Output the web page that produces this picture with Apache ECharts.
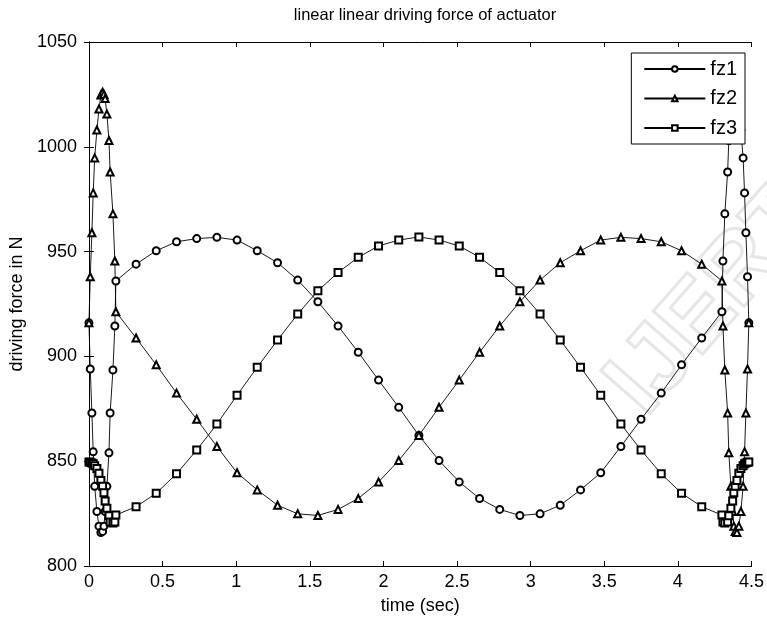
<!DOCTYPE html>
<html>
<head>
<meta charset="utf-8">
<script src="https://cdn.jsdelivr.net/npm/echarts@6/dist/echarts.min.js"></script>
<style>html,body{margin:0;padding:0;background:#fff}#c{width:767px;height:626px}</style>
</head>
<body>
<div id="c"></div>
<script>
var time = [0, 0.009, 0.02, 0.029, 0.039, 0.054, 0.068, 0.081, 0.093, 0.102, 0.110, 0.122, 0.136, 0.144, 0.163, 0.176, 0.183,
 0.320, 0.457, 0.595, 0.732, 0.869, 1.006, 1.143, 1.281, 1.418, 1.555, 1.692, 1.829, 1.967, 2.104, 2.241, 2.378, 2.515, 2.653, 2.790, 2.927, 3.064, 3.201, 3.339, 3.476, 3.613, 3.750, 3.887, 4.025, 4.162,
 4.299, 4.306, 4.319, 4.338, 4.346, 4.360, 4.372, 4.380, 4.389, 4.401, 4.414, 4.428, 4.443, 4.453, 4.462, 4.473, 4.482];

var fz1 = [916, 894, 873, 854.5, 838, 826, 819, 816, 816.5, 819, 826, 838, 854, 873, 893.5, 914.5, 936,
 944, 950.4, 954.7, 956.2, 956.8, 955.5, 950.4, 944.7, 936.4, 926.1, 914.5, 902, 888.7, 875.7, 862.3, 850.3, 840.1, 832.2, 827, 824.1, 824.9, 829, 836.3, 844.5, 857, 870, 882.5, 896, 908.8,
 921.3, 945.5, 968, 988, 1003, 1015.6, 1023, 1025, 1026, 1024.7, 1018, 1008, 994.7, 978, 959, 938, 916];

var fz2 = [916, 938, 959, 978, 994.7, 1008, 1018, 1024.7, 1026, 1025, 1023, 1015.6, 1003, 988, 968, 945.5, 921.3,
 908.8, 896, 882.5, 870, 857, 844.5, 836.3, 829, 824.9, 824.1, 827, 832.2, 840.1, 850.3, 862.3, 875.7, 888.7, 902, 914.5, 926.1, 936.4, 944.7, 950.4, 955.5, 956.8, 956.2, 954.7, 950.4, 944,
 936, 914.5, 893.5, 873, 854, 838, 826, 819, 816.5, 816, 819, 826, 838, 854.5, 873, 894, 916];

var fz3 = [849.6, 849.5, 849.2, 848.8, 847.8, 846.5, 844.3, 840.8, 838, 835, 831, 827.5, 824, 821, 820.5, 821, 824.3,
 828.3, 834.7, 844, 855.3, 867.7, 881.5, 894.8, 907.8, 920.2, 931.3, 940, 947.3, 952.7, 955.5, 957, 955.5, 952.7, 947.3, 940, 931.3, 920.2, 907.8, 894.8, 881.5, 867.7, 855.3, 844, 834.7, 828.3,
 824.3, 821, 820.5, 821, 824, 827.5, 831, 835, 838, 840.8, 844.3, 846.5, 847.8, 848.8, 849.2, 849.5, 849.6];

var seriesNames = ['fz1', 'fz2', 'fz3'];
var seriesSymbols = ['emptyCircle', 'emptyTriangle', 'emptyRect'];
var titleText = 'linear linear driving force of actuator';
var xName = 'time (sec)';
var yName = 'driving force in N';
var watermarkText = 'IJERT';

function pairs(vals) { return time.map(function (t, i) { return [t, vals[i]]; }); }
var allVals = [fz1, fz2, fz3];

var font = 'Liberation Sans, Arial, sans-serif';
function plainNum(v) { return String(v); }
var axisCommon = {
  axisLine: { lineStyle: { color: '#000', width: 1 } },
  axisTick: { inside: true, length: 5, lineStyle: { color: '#000' } },
  splitLine: { show: false }
};

var chart = echarts.init(document.getElementById('c'), null, { renderer: 'canvas' });
chart.setOption({
  backgroundColor: '#fff',
  animation: false,
  graphic: [{
    type: 'text', x: 715, y: 300, rotation: 0.85, z: -10, silent: true,
    style: { text: watermarkText, fontFamily: font, fontSize: 95, fontWeight: 'bold',
      fill: 'rgba(0,0,0,0)', stroke: '#e6e6e6', lineWidth: 3, align: 'center', verticalAlign: 'middle' }
  }],
  title: {
    text: titleText, left: 420, top: 2, textAlign: 'center',
    textStyle: { fontFamily: font, fontSize: 16.5, fontWeight: 'normal', color: '#000' }
  },
  legend: {
    data: seriesNames,
    orient: 'vertical', right: 22, top: 53,
    itemWidth: 61, itemHeight: 7, itemGap: 9.5,
    padding: [6, 8, 6, 12],
    backgroundColor: '#fff', borderColor: '#000', borderWidth: 1,
    textStyle: { fontFamily: font, fontSize: 20, lineHeight: 20, color: '#000' }
  },
  grid: { left: 88, right: 14, top: 42, bottom: 60 },
  xAxis: [
    Object.assign({}, axisCommon, {
      type: 'value', min: 0, max: 4.5, interval: 0.5, position: 'bottom',
      name: xName, nameLocation: 'middle', nameGap: 31,
      nameTextStyle: { fontFamily: font, fontSize: 18, color: '#000' },
      axisLabel: { fontFamily: font, fontSize: 18, color: '#000', margin: 7, formatter: plainNum }
    }),
    Object.assign({}, axisCommon, {
      type: 'value', min: 0, max: 4.5, interval: 0.5, position: 'top',
      axisLabel: { show: false }
    })
  ],
  yAxis: [
    Object.assign({}, axisCommon, {
      type: 'value', min: 800, max: 1050, interval: 50, position: 'left',
      name: yName, nameLocation: 'middle', nameGap: 58,
      nameTextStyle: { fontFamily: font, fontSize: 18, color: '#000' },
      axisLabel: { fontFamily: font, fontSize: 18, color: '#000', margin: 12, formatter: plainNum }
    }),
    Object.assign({}, axisCommon, {
      type: 'value', min: 800, max: 1050, interval: 50, position: 'right',
      axisLabel: { show: false }
    })
  ],
  series: seriesNames.map(function (n, i) {
    return {
      name: n, type: 'line', data: pairs(allVals[i]),
      symbol: seriesSymbols[i], symbolSize: 7,
      showAllSymbol: true,
      color: '#000',
      lineStyle: { color: '#000', width: 0.9 },
      itemStyle: { color: '#000', borderColor: '#000', borderWidth: 0.8 },
      emphasis: { disabled: true }
    };
  })
});
</script>
</body>
</html>
